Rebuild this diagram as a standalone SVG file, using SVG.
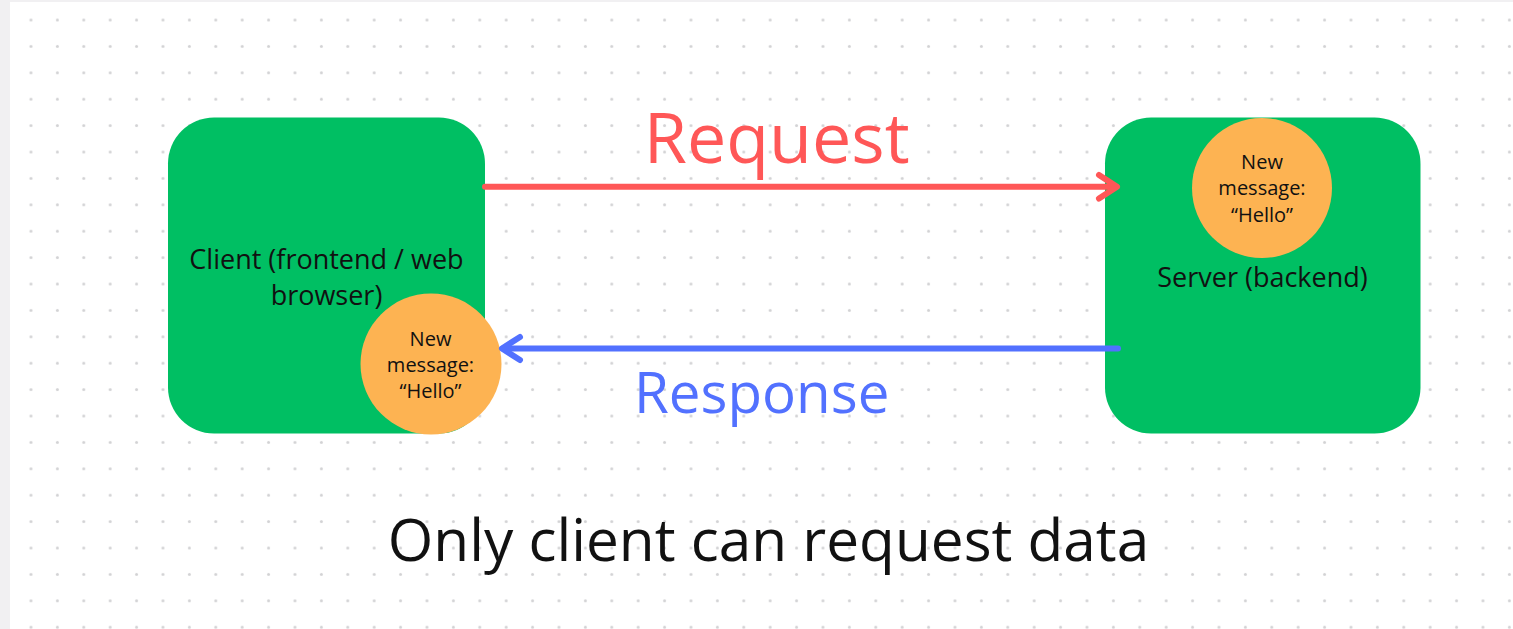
<svg xmlns="http://www.w3.org/2000/svg" width="1513" height="629" viewBox="0 0 1513 629">
  <defs>
    <!-- dotted canvas grid -->
    <pattern id="dots" x="17.8" y="6.8" width="26.4" height="26.4" patternUnits="userSpaceOnUse">
      <circle cx="13.2" cy="13.2" r="1.5" fill="#d2d2d4"/>
    </pattern>
    <style>
      .box { fill: #00bf63; }
      .bubble { fill: #fdb352; }
      .label { font-family: "Open Sans", "Liberation Sans", sans-serif; fill: #111; text-anchor: middle; }
      .big { font-size: 27px; }
      .small { font-size: 20px; }
      .line { fill: none; stroke-width: 6; stroke-linecap: round; stroke-linejoin: round; }
      .req { stroke: #ff5757; }
      .resp { stroke: #5271ff; }
    </style>
  </defs>

  <!-- canvas -->
  <rect x="0" y="0" width="1513" height="629" fill="#f1f0f2"/>
  <rect x="10" y="2" width="1503" height="627" fill="#ffffff"/>
  <rect x="10" y="2" width="1503" height="627" fill="url(#dots)"/>

  <!-- client node -->
  <g id="client">
    <rect class="box" x="168" y="117.5" width="317" height="316" rx="46" ry="46"/>
    <text class="label big" x="326.5" y="269">Client (frontend / web</text>
    <text class="label big" x="326.5" y="305">browser)</text>
  </g>
  <g id="client-message">
    <circle class="bubble" cx="431" cy="364" r="70.5"/>
    <text class="label small" x="430.5" y="345.5">New</text>
    <text class="label small" x="430.5" y="371.5">message:</text>
    <text class="label small" x="430.5" y="398">“Hello”</text>
  </g>

  <!-- server node -->
  <g id="server">
    <rect class="box" x="1105" y="117.5" width="315.5" height="316" rx="46" ry="46"/>
    <text class="label big" x="1262.5" y="286.5">Server (backend)</text>
  </g>
  <g id="server-message">
    <circle class="bubble" cx="1262" cy="188" r="70"/>
    <text class="label small" x="1262" y="169">New</text>
    <text class="label small" x="1262" y="195">message:</text>
    <text class="label small" x="1262" y="221.5">“Hello”</text>
  </g>

  <!-- connectors -->
  <g id="connectors">
    <g id="request">
      <path class="line req" d="M485 186.8 H1116"/>
      <path class="line req" d="M1099 175 L1117 186.8 L1099 198.6"/>
      <text x="776.7" y="163.3" font-family="Open Sans, Liberation Sans, sans-serif" font-size="70" fill="#ff5757" text-anchor="middle">Request</text>
    </g>
    <g id="response">
      <path class="line resp" d="M1118 348.5 H503"/>
      <path class="line resp" d="M520 337 L502 348.5 L520 360"/>
      <text x="761.7" y="413.3" font-family="Open Sans, Liberation Sans, sans-serif" font-size="56.5" fill="#5271ff" text-anchor="middle">Response</text>
    </g>
  </g>

  <!-- caption -->
  <text x="768.5" y="561" font-family="Open Sans, Liberation Sans, sans-serif" font-size="58.5" fill="#111" text-anchor="middle">Only client can request data</text>
</svg>
